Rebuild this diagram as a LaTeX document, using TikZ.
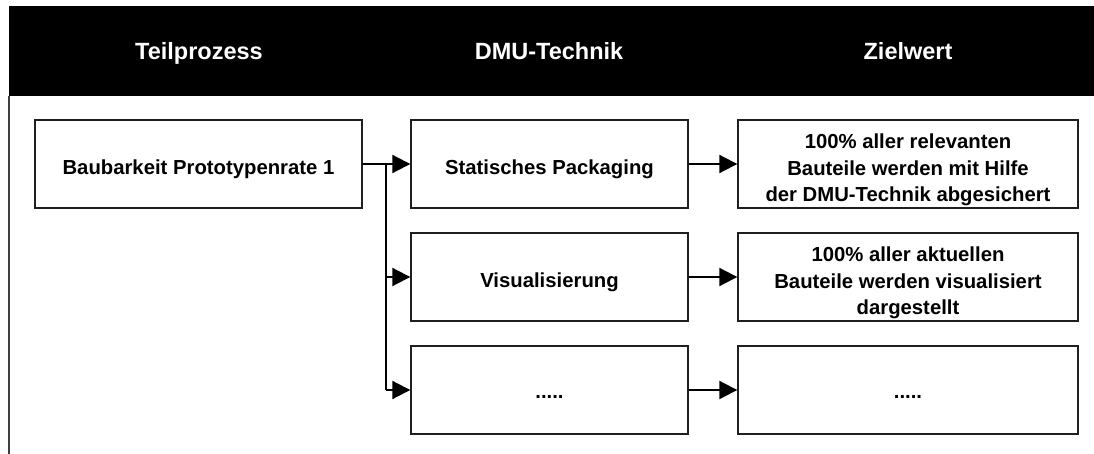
\documentclass[tikz,border=0pt]{standalone}
\usepackage{fontspec}
\setmainfont{Liberation Sans}
\usetikzlibrary{arrows.meta}
\begin{document}
\begin{tikzpicture}[x=1pt,y=-1pt,
  headtext/.style={text=white,font=\fontsize{23.5}{28}\selectfont\bfseries,anchor=base},
  stepbox/.style={draw=black!88,line width=1.4pt,fill=white,minimum height=88pt,inner sep=0pt},
  boxtext/.style={align=center,inner sep=0pt,font=\fontsize{20.3}{26.5}\selectfont\bfseries},
  link/.style={line width=2pt,-{Triangle[length=18pt,width=18pt]}}]
\useasboundingbox (0,0) rectangle (1094,454);
\fill[white] (0,0) rectangle (1094,454);
% header band
\fill[black] (9,6) rectangle (1094,96);
\node[headtext] (h1) at (199,59.5) {Teilprozess};
\node[headtext] (h2) at (549,59.5) {DMU-Technik};
\node[headtext] (h3) at (908,59.5) {Zielwert};
% left border of the table
\draw[black!75,line width=1.5pt] (9,96) -- (9,454);
% process step
\node[stepbox,minimum width=327pt] (p) at (198.5,164) {};
\node[boxtext] (pt) at ([yshift=-5pt]p.center) {Baubarkeit Prototypenrate 1};
% DMU techniques
\node[stepbox,minimum width=277pt] (m1) at (549.5,164) {};
\node[stepbox,minimum width=277pt] (m2) at (549.5,277) {};
\node[stepbox,minimum width=277pt] (m3) at (549.5,390) {};
\node[boxtext] (m1t) at ([yshift=-5pt]m1.center) {Statisches Packaging};
\node[boxtext] (m2t) at ([yshift=-5pt]m2.center) {Visualisierung};
\node[boxtext] (m3t) at ([yshift=-7pt]m3.center) {.....};
% target values
\node[stepbox,minimum width=340pt] (z1) at (908,164) {};
\node[stepbox,minimum width=340pt] (z2) at (908,277) {};
\node[stepbox,minimum width=340pt] (z3) at (908,390) {};
\node[boxtext] (z1t) at ([yshift=-6pt]z1.center) {100\% aller relevanten\\Bauteile werden mit Hilfe\\der DMU-Technik abgesichert};
\node[boxtext] (z2t) at ([yshift=-6pt]z2.center) {100\% aller aktuellen\\Bauteile werden visualisiert\\dargestellt};
\node[boxtext] (z3t) at ([yshift=-7pt]z3.center) {.....};
% branching connector
\coordinate (br) at (386,164);
\coordinate (bb) at (386,390);
\draw[line width=2pt] (p.east) -- (br);
\draw[line width=2pt] (br) -- (bb);
\draw[link] (br) -- (m1.west);
\draw[link] (br |- m2.west) -- (m2.west);
\draw[link] (bb) -- (m3.west);
% technique to target
\draw[link] (m1.east) -- (z1.west);
\draw[link] (m2.east) -- (z2.west);
\draw[link] (m3.east) -- (z3.west);
\end{tikzpicture}
\end{document}
